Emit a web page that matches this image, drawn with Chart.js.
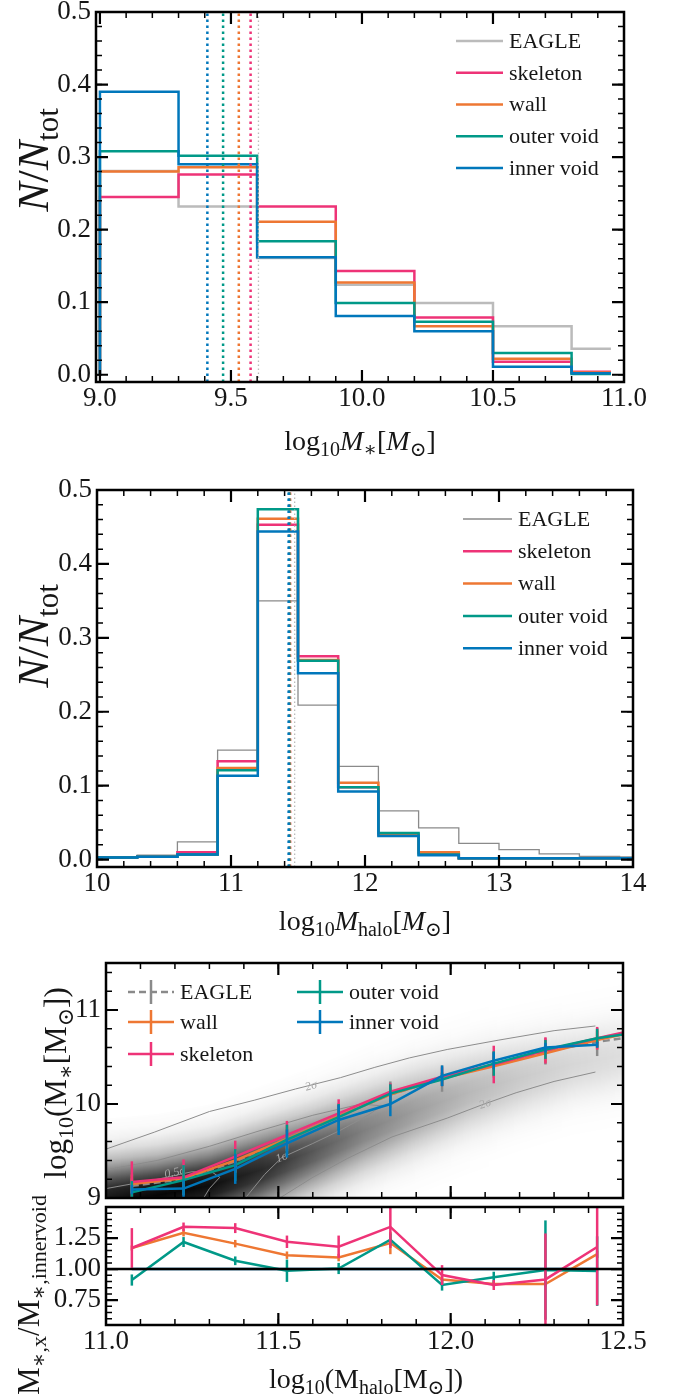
<!DOCTYPE html>
<html>
<head>
<meta charset="utf-8">
<script src="https://cdn.jsdelivr.net/npm/chart.js@4.4.1/dist/chart.umd.min.js"></script>
<style>
  body { margin: 0; background: #fff; }
  #fig { position: relative; width: 673px; height: 1399px; overflow: hidden; }
  #fig canvas { position: absolute; left: 0; }
</style>
</head>
<body>
<div id="fig">
  <canvas id="mstarHist" width="673" height="460" style="top:0px"></canvas>
  <canvas id="mhaloHist" width="673" height="485" style="top:460px"></canvas>
  <canvas id="smhm" width="673" height="270" style="top:945px"></canvas>
  <canvas id="ratio" width="673" height="219" style="top:1180px"></canvas>
</div>
<script>
// ---- stellar mass histogram ----
const MSTAR_EDGES = [9.0, 9.3, 9.6, 9.9, 10.2, 10.5, 10.8, 10.95];
const MSTAR_EAGLE = [0.281, 0.232, 0.161, 0.124, 0.099, 0.067, 0.036];
const MSTAR_SKELETON = [0.245, 0.276, 0.232, 0.143, 0.079, 0.018, 0.004];
const MSTAR_WALL = [0.280, 0.286, 0.211, 0.127, 0.067, 0.022, 0.003];
const MSTAR_OUTER = [0.308, 0.302, 0.184, 0.099, 0.073, 0.030, 0.001];
const MSTAR_INNER = [0.390, 0.290, 0.162, 0.081, 0.060, 0.011, 0.002];
// medians: EAGLE, skeleton, wall, outer void, inner void
const MSTAR_MEDIANS = [9.605, 9.575, 9.53, 9.47, 9.41];

// ---- halo mass histogram ----
const MHALO_EDGES = [10.0, 10.3, 10.6, 10.9, 11.2, 11.5, 11.8, 12.1, 12.4, 12.7, 13.0, 13.3, 13.6, 13.9, 14.2];
const MHALO_EAGLE = [0.002, 0.006, 0.024, 0.148, 0.350, 0.209, 0.126, 0.066, 0.043, 0.022, 0.0135, 0.0077, 0.0045, 0.0036];
const MHALO_SKELETON = [0.003, 0.004, 0.010, 0.133, 0.453, 0.275, 0.098, 0.034, 0.009, 0.002, 0.002, 0.002, 0.002, 0.002];
const MHALO_WALL = [0.003, 0.004, 0.007, 0.124, 0.461, 0.270, 0.104, 0.034, 0.010, 0.002, 0.002, 0.002, 0.002, 0.002];
const MHALO_OUTER = [0.003, 0.004, 0.007, 0.121, 0.474, 0.269, 0.098, 0.036, 0.007, 0.002, 0.002, 0.002, 0.002, 0.002];
const MHALO_INNER = [0.003, 0.004, 0.0068, 0.1135, 0.444, 0.252, 0.092, 0.032, 0.006, 0.002, 0.002, 0.002, 0.002, 0.002];
const MHALO_MEDIANS = [11.475, 11.44, 11.44, 11.435, 11.43];

// ---- stellar-to-halo mass relation ----
const HALO_BINS = [11.075, 11.225, 11.375, 11.525, 11.675, 11.825, 11.975, 12.125, 12.275, 12.425, 12.575];
const SMHM_EAGLE = [9.13, 9.20, 9.39, 9.63, 9.87, 10.10, 10.27, 10.42, 10.56, 10.66, 10.74];
const SMHM_EAGLE_ERR = [0.08, 0.10, 0.12, 0.13, 0.14, 0.14, 0.14, 0.14, 0.14, 0.15, 0.15];
const SMHM_WALL = [9.15, 9.21, 9.40, 9.63, 9.87, 10.10, 10.27, 10.40, 10.54, 10.68, 10.80];
const SMHM_WALL_ERR = [0.10, 0.12, 0.10, 0.10, 0.10, 0.07, 0.07, 0.10, 0.10, 0.10, 0.10];
const SMHM_SKELETON = [9.17, 9.22, 9.44, 9.67, 9.90, 10.13, 10.29, 10.42, 10.57, 10.70, 10.82];
const SMHM_SKELETON_ERR = [0.22, 0.19, 0.17, 0.15, 0.15, 0.09, 0.10, 0.20, 0.14, 0.12, 0.12];
const SMHM_OUTER = [9.06, 9.19, 9.35, 9.62, 9.86, 10.11, 10.26, 10.43, 10.58, 10.70, 10.78];
const SMHM_OUTER_ERR = [0.12, 0.16, 0.17, 0.16, 0.14, 0.10, 0.07, 0.13, 0.10, 0.10, 0.10];
const SMHM_INNER = [9.09, 9.10, 9.31, 9.58, 9.83, 10.00, 10.30, 10.46, 10.60, 10.63];
const SMHM_INNER_ERR = [0.05, 0.09, 0.16, 0.15, 0.16, 0.13, 0.11, 0.09, 0.05, 0.03];

// EAGLE density ridge behind the relation
const RIDGE_X = [11.0, 11.15, 11.3, 11.45, 11.6, 11.75, 11.9, 12.05, 12.2, 12.35, 12.5];
const RIDGE_Y = [8.98, 9.03, 9.13, 9.30, 9.50, 9.72, 9.93, 10.12, 10.28, 10.42, 10.52];
const RIDGE_SIGMA = [0.27, 0.27, 0.27, 0.28, 0.28, 0.28, 0.28, 0.27, 0.26, 0.25, 0.25];
const RIDGE_PEAK = [0.92, 0.98, 0.95, 0.84, 0.66, 0.50, 0.38, 0.28, 0.21, 0.16, 0.13];

// density contours
const C2_UPPER_X = [11.0, 11.14, 11.3, 11.43, 11.55, 11.68, 11.78, 11.88, 11.99, 12.14, 12.3, 12.42];
const C2_UPPER_Y = [9.52, 9.70, 9.92, 10.04, 10.16, 10.28, 10.39, 10.49, 10.58, 10.68, 10.78, 10.83];
const C2_LOWER_X = [11.5, 11.6, 11.7, 11.83, 11.99, 12.09, 12.19, 12.3, 12.42];
const C2_LOWER_Y = [8.99, 9.22, 9.42, 9.65, 9.85, 9.99, 10.12, 10.24, 10.34];
const C1_X = [11.40, 11.46, 11.51, 11.6, 11.68, 11.76, 11.8, 11.74, 11.6, 11.45, 11.3, 11.15, 11.0];
const C1_Y = [8.98, 9.25, 9.43, 9.58, 9.72, 9.88, 9.98, 10.0, 9.88, 9.72, 9.55, 9.40, 9.30];
const C05_X = [11.0, 11.15, 11.25, 11.31, 11.33, 11.30, 11.28];
const C05_Y = [9.10, 9.20, 9.28, 9.27, 9.22, 9.10, 8.98];

// ---- ratio to inner void ----
const RATIO_BINS = HALO_BINS.slice(0, 10);
const RATIO_SKELETON = [1.17, 1.34, 1.33, 1.22, 1.18, 1.34, 0.952, 0.872, 0.917, 1.178];
const RATIO_SKELETON_ERR = [0.16, 0.035, 0.04, 0.05, 0.09, 0.17, 0.08, 0.04, 0.37, 0.47];
const RATIO_WALL = [1.17, 1.293, 1.205, 1.112, 1.093, 1.21, 0.917, 0.88, 0.88, 1.12];
const RATIO_WALL_ERR = [0.02, 0.03, 0.03, 0.03, 0.03, 0.09, 0.03, 0.02, 0.02, 0.03];
const RATIO_OUTER = [0.912, 1.218, 1.067, 0.987, 1.005, 1.237, 0.872, 0.934, 0.992, 0.984];
const RATIO_OUTER_ERR = [0.045, 0.04, 0.035, 0.09, 0.045, 0.05, 0.045, 0.045, 0.40, 0.28];
const RATIO_INNER = [1, 1, 1, 1, 1, 1, 1, 1, 1, 1];
const RATIO_UNITY = 1;

// tick labels
const MSTAR_XTICKS = [9.0, 9.5, 10.0, 10.5, 11.0];
const FRACTION_TICKS = [0.0, 0.1, 0.2, 0.3, 0.4, 0.5];
const MHALO_XTICKS = [10, 11, 12, 13, 14];
const SMHM_XTICKS = [11.0, 11.5, 12.0, 12.5];
const SMHM_YTICKS = [9, 10, 11];
const RATIO_YTICKS = [0.75, 1.00, 1.25];

const SERIF = "'Liberation Serif', 'DejaVu Serif', serif";
const INK = '#161616';
const GREY = '#bbbbbb', GREY_DARK = '#8a8a8a';
const PINK = '#EE3377', ORANGE = '#EE7733', TEAL = '#009988', BLUE = '#0077BB';
const TICK_FONT = {family: SERIF, size: 27};

// helpers
function stepPoints(edges, vals) {
  const pts = [{x: edges[0], y: 0}];
  vals.forEach((v, i) => pts.push({x: edges[i], y: v}));
  pts.push({x: edges[vals.length], y: vals[vals.length - 1]});
  return pts;
}
function xy(xs, ys) { return ys.map((v, i) => ({x: xs[i], y: v})); }
function interp(xs, ys, v) {
  if (v <= xs[0]) return ys[0];
  for (let i = 1; i < xs.length; i++) {
    if (v <= xs[i]) { const t = (v - xs[i - 1]) / (xs[i] - xs[i - 1]); return ys[i - 1] + t * (ys[i] - ys[i - 1]); }
  }
  return ys[ys.length - 1];
}
function stepValues(min, max, step) {
  const out = [];
  for (let k = Math.ceil(min / step - 1e-6); k <= Math.floor(max / step + 1e-6); k++) out.push(k * step);
  return out;
}
function clipArea(ctx, a) { ctx.beginPath(); ctx.rect(a.left, a.top, a.right - a.left, a.bottom - a.top); ctx.clip(); }

// text with sub/superscripts: parts = [text, scale, 'i'|'n', shift]
function drawRich(ctx, item) {
  const F = item.size;
  const fontFor = p => `${p[2] === 'i' ? 'italic ' : ''}${Math.round(F * p[1])}px ${SERIF}`;
  ctx.save();
  ctx.translate(item.x, item.y);
  if (item.rotate) ctx.rotate(-Math.PI / 2);
  let total = 0;
  const widths = item.parts.map(p => { ctx.font = fontFor(p); const w = ctx.measureText(p[0]).width; total += w; return w; });
  let cx = -total / 2;
  ctx.fillStyle = INK;
  ctx.textBaseline = 'alphabetic';
  item.parts.forEach((p, i) => {
    ctx.font = fontFor(p);
    ctx.fillText(p[0], cx, F * 0.35 + F * p[3]);
    cx += widths[i];
  });
  ctx.restore();
}

// inward ticks on all four sides plus a full frame
const mplFrame = {
  id: 'mplFrame',
  afterDraw(chart, args, o) {
    const {ctx, chartArea: a, scales: {x, y}} = chart;
    ctx.save();
    ctx.strokeStyle = '#000';
    const xt = (vals, len, w) => {
      ctx.lineWidth = w;
      vals.forEach(v => {
        const p = x.getPixelForValue(v);
        if (p < a.left + 1 || p > a.right - 1) return;
        ctx.beginPath();
        ctx.moveTo(p, a.bottom); ctx.lineTo(p, a.bottom - len);
        ctx.moveTo(p, a.top); ctx.lineTo(p, a.top + len);
        ctx.stroke();
      });
    };
    const yt = (vals, len, w) => {
      ctx.lineWidth = w;
      vals.forEach(v => {
        const p = y.getPixelForValue(v);
        if (p < a.top + 1 || p > a.bottom - 1) return;
        ctx.beginPath();
        ctx.moveTo(a.left, p); ctx.lineTo(a.left + len, p);
        ctx.moveTo(a.right, p); ctx.lineTo(a.right - len, p);
        ctx.stroke();
      });
    };
    xt(stepValues(x.min, x.max, o.xMinor), 6, 1.5);
    xt(stepValues(x.min, x.max, o.xMajor), 12, 2.2);
    yt(stepValues(y.min, y.max, o.yMinor), 6, 1.5);
    yt(stepValues(y.min, y.max, o.yMajor), 12, 2.2);
    ctx.lineWidth = 2.5;
    ctx.strokeRect(a.left, a.top, a.right - a.left, a.bottom - a.top);
    ctx.restore();
  }
};

const axisTitles = {
  id: 'axisTitles',
  afterDraw(chart, args, o) { o.items.forEach(it => drawRich(chart.ctx, it)); }
};

const lineLegend = {
  id: 'lineLegend',
  afterDraw(chart, args, o) {
    const ctx = chart.ctx;
    ctx.save();
    ctx.font = `22px ${SERIF}`;
    ctx.textBaseline = 'middle';
    ctx.fillStyle = INK;
    o.labels.forEach((lab, i) => {
      const y = o.y + i * o.dy;
      ctx.strokeStyle = o.colors[i];
      ctx.lineWidth = o.widths[i];
      ctx.beginPath(); ctx.moveTo(o.x, y); ctx.lineTo(o.x + o.len, y); ctx.stroke();
      ctx.fillText(lab, o.x + o.len + 6, y + 1);
    });
    ctx.restore();
  }
};

const errorBars = {
  id: 'errorBars',
  afterDatasetDraw(chart, args) {
    const ds = chart.data.datasets[args.index];
    if (!ds.errors) return;
    const {ctx, chartArea: a, scales: {y}} = chart;
    ctx.save();
    clipArea(ctx, a);
    ctx.strokeStyle = ds.barColor || ds.borderColor;
    ctx.lineWidth = 2.5;
    ctx.setLineDash([]);
    args.meta.data.forEach((pt, i) => {
      const e = ds.errors[i];
      if (!e) return;
      const v = ds.data[i].y;
      ctx.beginPath();
      ctx.moveTo(pt.x, y.getPixelForValue(v - e));
      ctx.lineTo(pt.x, y.getPixelForValue(v + e));
      ctx.stroke();
    });
    ctx.restore();
  }
};

const densityShade = {
  id: 'densityShade',
  beforeDatasetsDraw(chart) {
    const {ctx, chartArea: a, scales: {x, y}} = chart;
    ctx.save();
    clipArea(ctx, a);
    for (let px = Math.floor(a.left); px < a.right; px++) {
      const xv = x.getValueForPixel(px + 0.5);
      const c = interp(RIDGE_X, RIDGE_Y, xv);
      const s = interp(RIDGE_X, RIDGE_SIGMA, xv);
      const pk = interp(RIDGE_X, RIDGE_PEAK, xv);
      const top = y.getPixelForValue(c + 3.2 * s), bot = y.getPixelForValue(c - 3.2 * s);
      const g = ctx.createLinearGradient(0, top, 0, bot);
      for (let k = 0; k <= 16; k++) {
        const z = (k / 16 - 0.5) * 6.4;
        g.addColorStop(k / 16, `rgba(0,0,0,${(pk * Math.exp(-z * z / 2)).toFixed(3)})`);
      }
      ctx.fillStyle = g;
      ctx.fillRect(px, top, 1, bot - top);
    }
    ctx.restore();
  }
};

const contourLabels = {
  id: 'contourLabels',
  afterDatasetDraw(chart, args) {
    const ds = chart.data.datasets[args.index];
    if (!ds.sigmaLabels) return;
    const {ctx, scales: {x, y}} = chart;
    ctx.save();
    ctx.font = `italic 12px ${SERIF}`;
    ctx.fillStyle = '#a8a8a8';
    ctx.textAlign = 'center';
    ctx.textBaseline = 'middle';
    ds.sigmaLabels.forEach(l => {
      ctx.save();
      ctx.translate(x.getPixelForValue(l.x), y.getPixelForValue(l.y));
      ctx.rotate(-l.angle * Math.PI / 180);
      ctx.fillText(l.text, 0, 0);
      ctx.restore();
    });
    ctx.restore();
  }
};

const errLegend = {
  id: 'errLegend',
  afterDraw(chart, args, o) {
    const ctx = chart.ctx;
    ctx.save();
    ctx.font = `22px ${SERIF}`;
    ctx.textBaseline = 'middle';
    o.items.forEach(it => {
      ctx.strokeStyle = it.color;
      ctx.lineWidth = 2.5;
      ctx.setLineDash(it.dash || []);
      ctx.beginPath(); ctx.moveTo(it.x, it.y); ctx.lineTo(it.x + 46, it.y); ctx.stroke();
      ctx.setLineDash([]);
      ctx.beginPath(); ctx.moveTo(it.x + 23, it.y - 12); ctx.lineTo(it.x + 23, it.y + 12); ctx.stroke();
      ctx.fillStyle = INK;
      ctx.fillText(it.label, it.x + 52, it.y + 1);
    });
    ctx.restore();
  }
};

function axisOptions(cfg) {
  return {
    responsive: false,
    animation: false,
    devicePixelRatio: 1,
    layout: {padding: cfg.pad},
    plugins: Object.assign({legend: {display: false}, tooltip: {enabled: false}}, cfg.plugins),
    elements: {point: {radius: 0}, line: {tension: 0}},
    scales: {
      x: {
        type: 'linear', min: cfg.xRange[0], max: cfg.xRange[1],
        grid: {display: false, drawTicks: false}, border: {display: false},
        ticks: {display: cfg.xLabels !== false, font: TICK_FONT, color: INK, padding: 1,
                maxRotation: 0, autoSkip: false, callback: cfg.xFmt},
        afterBuildTicks: s => { s.ticks = cfg.xTicks.map(v => ({value: v})); },
        afterFit: s => { s.height = cfg.xHeight; s.paddingLeft = 0; s.paddingRight = 0; }
      },
      y: {
        type: 'linear', min: cfg.yRange[0], max: cfg.yRange[1],
        grid: {display: false, drawTicks: false}, border: {display: false},
        ticks: {font: TICK_FONT, color: INK, padding: 5, autoSkip: false, callback: cfg.yFmt},
        afterBuildTicks: s => { s.ticks = cfg.yTicks.map(v => ({value: v})); },
        afterFit: s => { s.width = cfg.yWidth; s.paddingTop = 0; s.paddingBottom = 0; }
      }
    }
  };
}

function withOrder(list) {
  list.forEach((d, i) => { d.order = list.length - i; d.clip = 0; });
  return list;
}
// histogram outline: rises from zero at the first edge, horizontal across each bin
function stepSet(edges, vals, color, width) {
  return {data: stepPoints(edges, vals), borderColor: color, borderWidth: width, stepped: 'before', fill: false};
}
function medianSet(m, color, width, dash, yr) {
  return {data: [{x: m, y: yr[0]}, {x: m, y: yr[1]}], borderColor: color, borderWidth: width, borderDash: dash, fill: false};
}

const N_TOT = [['N', 1, 'i', 0], ['/', 1, 'n', 0], ['N', 1, 'i', 0], ['tot', 0.7, 'n', 0.22]];
const LEGEND_LABELS = ['EAGLE', 'skeleton', 'wall', 'outer void', 'inner void'];

// stellar mass distribution
const yr1 = [-0.01, 0.5];
new Chart(document.getElementById('mstarHist'), {
  type: 'line',
  data: {datasets: withOrder([
    stepSet(MSTAR_EDGES, MSTAR_EAGLE, GREY, 2.5),
    stepSet(MSTAR_EDGES, MSTAR_SKELETON, PINK, 2.5),
    stepSet(MSTAR_EDGES, MSTAR_WALL, ORANGE, 2.5),
    stepSet(MSTAR_EDGES, MSTAR_OUTER, TEAL, 2.5),
    stepSet(MSTAR_EDGES, MSTAR_INNER, BLUE, 2.5),
    medianSet(MSTAR_MEDIANS[0], GREY, 1.3, [1.5, 2.5], yr1),
    medianSet(MSTAR_MEDIANS[1], PINK, 2.5, [2.5, 3.5], yr1),
    medianSet(MSTAR_MEDIANS[2], ORANGE, 2.5, [2.5, 3.5], yr1),
    medianSet(MSTAR_MEDIANS[3], TEAL, 2.5, [2.5, 3.5], yr1),
    medianSet(MSTAR_MEDIANS[4], BLUE, 2.5, [2.5, 3.5], yr1)
  ])},
  options: axisOptions({
    pad: {left: 0, right: 49, top: 12, bottom: 0},
    xRange: [8.985, 11.0], yRange: yr1, xHeight: 78, yWidth: 96,
    xTicks: MSTAR_XTICKS, yTicks: FRACTION_TICKS,
    xFmt: v => v.toFixed(1), yFmt: v => v.toFixed(1),
    plugins: {
      mplFrame: {xMajor: 0.5, xMinor: 0.1, yMajor: 0.1, yMinor: 0.02},
      lineLegend: {x: 456, y: 41, dy: 31.75, len: 47, labels: LEGEND_LABELS,
                   colors: [GREY, PINK, ORANGE, TEAL, BLUE], widths: [2.5, 2.5, 2.5, 2.5, 2.5]},
      axisTitles: {items: [
        {x: 360, y: 440, size: 28, parts: [['log', 1, 'n', 0], ['10', 0.7, 'n', 0.22], ['M', 1, 'i', 0], ['∗', 0.7, 'n', 0.22],
                                           ['[', 1, 'n', 0], ['M', 1, 'i', 0], ['⊙', 0.7, 'n', 0.22], [']', 1, 'n', 0]]},
        {x: 33, y: 160, size: 44, rotate: true, parts: N_TOT}
      ]}
    }
  }),
  plugins: [mplFrame, lineLegend, axisTitles]
});

// halo mass distribution
new Chart(document.getElementById('mhaloHist'), {
  type: 'line',
  data: {datasets: withOrder([
    stepSet(MHALO_EDGES, MHALO_EAGLE, GREY_DARK, 1.3),
    stepSet(MHALO_EDGES, MHALO_SKELETON, PINK, 2.5),
    stepSet(MHALO_EDGES, MHALO_WALL, ORANGE, 2.5),
    stepSet(MHALO_EDGES, MHALO_OUTER, TEAL, 2.5),
    stepSet(MHALO_EDGES, MHALO_INNER, BLUE, 2.5),
    medianSet(MHALO_MEDIANS[0], GREY, 1.3, [1.5, 2.5], yr1),
    medianSet(MHALO_MEDIANS[1], PINK, 2.5, [2.5, 3.5], yr1),
    medianSet(MHALO_MEDIANS[2], ORANGE, 2.5, [2.5, 3.5], yr1),
    medianSet(MHALO_MEDIANS[3], TEAL, 2.5, [2.5, 3.5], yr1),
    medianSet(MHALO_MEDIANS[4], BLUE, 2.5, [2.5, 3.5], yr1)
  ])},
  options: axisOptions({
    pad: {left: 0, right: 40, top: 30, bottom: 0},
    xRange: [10, 14], yRange: yr1, xHeight: 78, yWidth: 97,
    xTicks: MHALO_XTICKS, yTicks: FRACTION_TICKS,
    xFmt: v => String(v), yFmt: v => v.toFixed(1),
    plugins: {
      mplFrame: {xMajor: 1, xMinor: 0.2, yMajor: 0.1, yMinor: 0.02},
      lineLegend: {x: 463, y: 59, dy: 32.3, len: 49, labels: LEGEND_LABELS,
                   colors: [GREY_DARK, PINK, ORANGE, TEAL, BLUE], widths: [1.3, 2.5, 2.5, 2.5, 2.5]},
      axisTitles: {items: [
        {x: 365, y: 460, size: 28, parts: [['log', 1, 'n', 0], ['10', 0.7, 'n', 0.22], ['M', 1, 'i', 0], ['halo', 0.7, 'n', 0.22],
                                           ['[', 1, 'n', 0], ['M', 1, 'i', 0], ['⊙', 0.7, 'n', 0.22], [']', 1, 'n', 0]]},
        {x: 33, y: 176, size: 44, rotate: true, parts: N_TOT}
      ]}
    }
  }),
  plugins: [mplFrame, lineLegend, axisTitles]
});

// stellar mass vs halo mass
function relSet(ys, errs, color, dash, xs) {
  return {data: xy(xs || HALO_BINS, ys), errors: errs, borderColor: color, borderWidth: 2.5, borderDash: dash || [], fill: false};
}
function contourSet(xs, ys, labels) {
  return {data: xy(xs, ys), borderColor: '#8c8c8c', borderWidth: 1, fill: false, sigmaLabels: labels};
}
new Chart(document.getElementById('smhm'), {
  type: 'line',
  data: {datasets: withOrder([
    contourSet(C05_X, C05_Y, [{x: 11.2, y: 9.27, text: '0.5σ', angle: 12}]),
    contourSet(C1_X, C1_Y, [{x: 11.51, y: 9.43, text: '1σ', angle: 22}]),
    contourSet(C2_LOWER_X, C2_LOWER_Y, [{x: 12.1, y: 10.0, text: '2σ', angle: 19}]),
    contourSet(C2_UPPER_X, C2_UPPER_Y, [{x: 11.595, y: 10.19, text: '2σ', angle: 16}]),
    relSet(SMHM_EAGLE, SMHM_EAGLE_ERR, GREY_DARK, [7, 4]),
    relSet(SMHM_WALL, SMHM_WALL_ERR, ORANGE),
    relSet(SMHM_SKELETON, SMHM_SKELETON_ERR, PINK),
    relSet(SMHM_OUTER, SMHM_OUTER_ERR, TEAL),
    relSet(SMHM_INNER, SMHM_INNER_ERR, BLUE)
  ])},
  options: axisOptions({
    pad: {left: 0, right: 50, top: 18, bottom: 0},
    xRange: [11.0, 12.5], yRange: [9, 11.5], xHeight: 17, yWidth: 106, xLabels: false,
    xTicks: SMHM_XTICKS, yTicks: SMHM_YTICKS,
    xFmt: v => v.toFixed(1), yFmt: v => String(v),
    plugins: {
      mplFrame: {xMajor: 0.5, xMinor: 0.1, yMajor: 1, yMinor: 0.2},
      errLegend: {items: [
        {x: 128, y: 47, label: 'EAGLE', color: GREY_DARK, dash: [7, 4]},
        {x: 128, y: 77, label: 'wall', color: ORANGE},
        {x: 128, y: 109, label: 'skeleton', color: PINK},
        {x: 297, y: 47, label: 'outer void', color: TEAL},
        {x: 297, y: 77, label: 'inner void', color: BLUE}
      ]},
      axisTitles: {items: [
        {x: 55, y: 138, size: 31, rotate: true, parts: [['log', 1, 'n', 0], ['10', 0.7, 'n', 0.22], ['(M', 1, 'n', 0], ['∗', 0.7, 'n', 0.22],
                                                        ['[M', 1, 'n', 0], ['⊙', 0.7, 'n', 0.22], ['])', 1, 'n', 0]]}
      ]}
    }
  }),
  plugins: [densityShade, errorBars, contourLabels, mplFrame, errLegend, axisTitles]
});

// ratio to the inner void relation
new Chart(document.getElementById('ratio'), {
  type: 'line',
  data: {datasets: withOrder([
    relSet(RATIO_INNER, null, BLUE, [], RATIO_BINS),
    relSet(RATIO_WALL, RATIO_WALL_ERR, ORANGE, [], RATIO_BINS),
    relSet(RATIO_OUTER, RATIO_OUTER_ERR, TEAL, [], RATIO_BINS),
    relSet(RATIO_SKELETON, RATIO_SKELETON_ERR, PINK, [], RATIO_BINS),
    {data: [{x: 11.0, y: RATIO_UNITY}, {x: 12.5, y: RATIO_UNITY}], borderColor: '#000', borderWidth: 2.5, fill: false}
  ])},
  options: axisOptions({
    pad: {left: 0, right: 50, top: 27, bottom: 0},
    xRange: [11.0, 12.5], yRange: [0.55, 1.5], xHeight: 74, yWidth: 106,
    xTicks: SMHM_XTICKS, yTicks: RATIO_YTICKS,
    xFmt: v => v.toFixed(1), yFmt: v => v.toFixed(2),
    plugins: {
      mplFrame: {xMajor: 0.5, xMinor: 0.1, yMajor: 0.25, yMinor: 0.05},
      axisTitles: {items: [
        {x: 366, y: 198, size: 28, parts: [['log', 1, 'n', 0], ['10', 0.7, 'n', 0.22], ['(M', 1, 'n', 0], ['halo', 0.7, 'n', 0.22],
                                           ['[M', 1, 'n', 0], ['⊙', 0.7, 'n', 0.22], ['])', 1, 'n', 0]]},
        {x: 28, y: 115, size: 31, rotate: true, parts: [['M', 1, 'n', 0], ['∗,x', 0.7, 'n', 0.22], ['/', 1, 'n', 0],
                                                        ['M', 1, 'n', 0], ['∗,innervoid', 0.7, 'n', 0.22]]}
      ]}
    }
  }),
  plugins: [errorBars, mplFrame, axisTitles]
});
</script>
</body>
</html>
